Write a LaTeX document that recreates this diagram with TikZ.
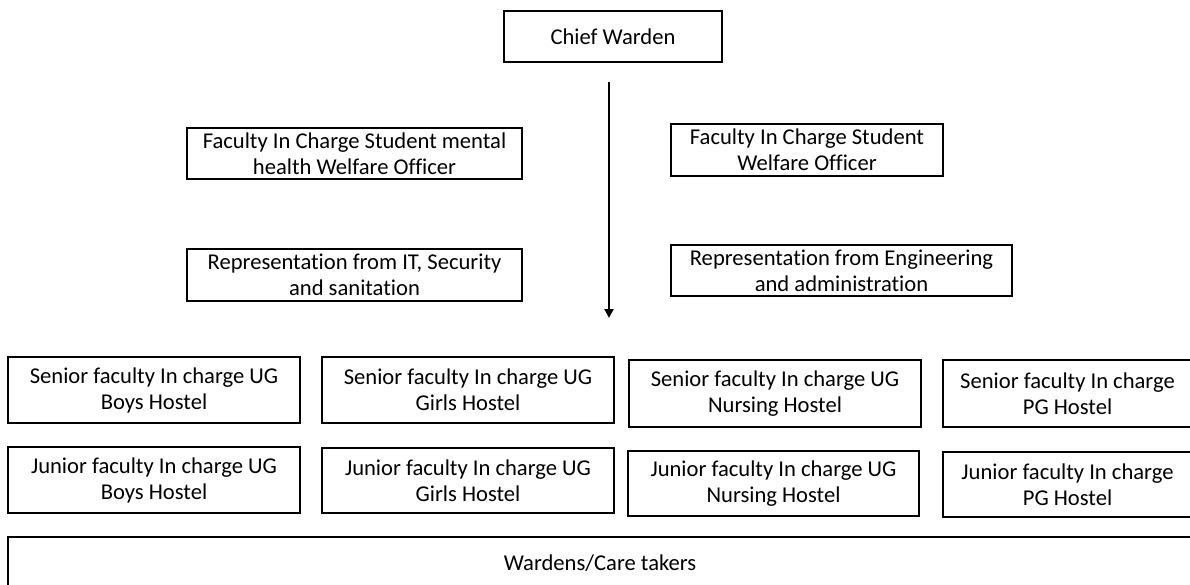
\documentclass[tikz,border=0pt]{standalone}
\usepackage{fontspec}
\setmainfont[Ligatures={NoCommon}]{Carlito}
\usetikzlibrary{positioning, arrows.meta}

\begin{document}
\begin{tikzpicture}[x=1pt, y=-1pt, thick,
  box/.style={draw, line width=1.3pt, align=center, inner sep=0pt,
    font=\fontsize{22.6}{26}\selectfont, minimum width=292pt, minimum height=66pt}]
  \useasboundingbox (0,0) rectangle (1190,585);
  \clip (0,0) rectangle (1190,585);
  \node[box, minimum width=218pt, minimum height=51pt] (chief) at (613,36.5) {Chief Warden};
  \node[box, minimum width=335pt, minimum height=51pt] (mental) at (354.5,153.5) {Faculty In Charge Student mental\\health Welfare Officer};
  \node[box, minimum width=335pt, minimum height=52pt] (itsec) at (354.5,275) {Representation from IT, Security\\and sanitation};
  \node[box, minimum width=272pt, minimum height=52pt] (welfare) at (807,150) {Faculty In Charge Student\\Welfare Officer};
  \node[box, minimum width=341pt, minimum height=51pt] (engg) at (841.5,270.5) {Representation from Engineering\\and administration};
  % hostel rows
  \node[box] (sboys) at (154,390) {Senior faculty In charge UG\\Boys Hostel};
  \node[box] (jboys) at (154,480) {Junior faculty In charge UG\\Boys Hostel};
  \node[box] (sgirls) at (468,390) {Senior faculty In charge UG\\Girls Hostel};
  \node[box, minimum height=65pt] (jgirls) at (468,480.5) {Junior faculty In charge UG\\Girls Hostel};
  \node[box, minimum height=67pt] (snurs) at (775,393.5) {Senior faculty In charge UG\\Nursing Hostel};
  \node[box, minimum width=291pt, minimum height=65pt] (jnurs) at (773.5,483.5) {Junior faculty In charge UG\\Nursing Hostel};
  \node[box, minimum width=249pt, minimum height=67pt] (spg) at (1067.5,393.5) {Senior faculty In charge\\PG Hostel};
  \node[box, minimum width=249pt, minimum height=65pt] (jpg) at (1067.5,484.5) {Junior faculty In charge\\PG Hostel};
  \node[box, minimum width=1184pt, minimum height=52pt] (wardens) at (600,563) {Wardens/Care takers};
  % arrow
  \coordinate (astart) at (609,82);
  \coordinate (aend) at (609,318);
  \draw[-{Triangle[length=9pt,width=9pt]}, line width=2pt] (astart) -- (aend);
\end{tikzpicture}
\end{document}
